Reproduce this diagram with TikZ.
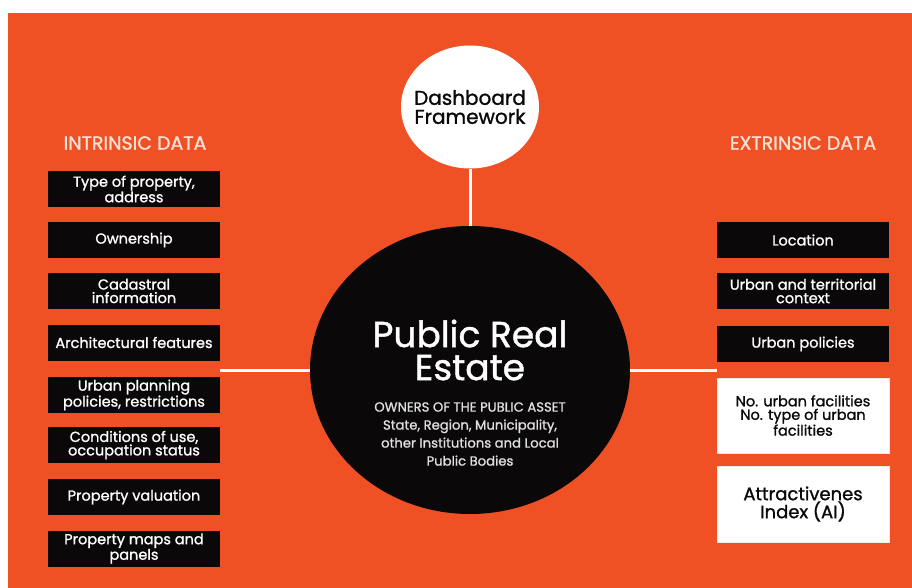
\documentclass[tikz,border=0pt]{standalone}
\usepackage{fontspec}
\setmainfont{Poppins}[FakeBold=1.2]
\usetikzlibrary{shapes.geometric}
\definecolor{bgorange}{RGB}{239,81,36}
\definecolor{boxblack}{RGB}{10,8,8}
\definecolor{headpeach}{RGB}{250,226,214}
\begin{document}
\begin{tikzpicture}
[
 x=1pt, y=-1pt,
 inner sep=0.5mm,
 INBOX/.style={rectangle, fill=boxblack, text=white, minimum width=172pt, minimum height=36pt, align=center, font=\fontsize{14.5}{13.5}\selectfont},
 WHITEBOX/.style={rectangle, fill=white, draw=black!8, text=boxblack, minimum width=172pt, align=center},
 HEAD/.style={text=headpeach, font=\fontsize{19}{19}\selectfont},
 HUB/.style={ellipse, fill=boxblack, minimum width=320pt, minimum height=288pt},
 DASH/.style={ellipse, fill=white, minimum width=138pt, minimum height=123pt},
 LINK/.style={white, line width=3pt},
 ]
%
\fill[white] (0,0) rectangle (912,588);
\fill[bgorange] (8,13) rectangle (912,588);
\useasboundingbox (0,0) rectangle (912,588);
%
\node [HUB]   (hub)  at (470,370) {};
\node [DASH]  (dash) at (470,107) {};
\node [text=boxblack, align=center, font=\fontsize{20}{19}\selectfont] (dashtxt) at (dash.center) {Dashboard\\Framework};
%
\node [text=white, align=center, font=\fontsize{36}{33}\selectfont] (title) at (470,350) {Public Real\\Estate};
\node [text=black!12, align=center, font=\fontsize{13.2}{18}\selectfont] (owners) at (470,434)
  {OWNERS OF THE PUBLIC ASSET\\State, Region, Municipality,\\other Institutions and Local\\Public Bodies};
%
\node [HEAD]  (intr) at (135,143) {INTRINSIC DATA};
\node [HEAD]  (extr) at (803,143) {EXTRINSIC DATA};
%
\node [INBOX] (I1) at (134,189)   {Type of property,\\address};
\node [INBOX] (I2) at (134,240)   {Ownership};
\node [INBOX] (I3) at (134,291)   {Cadastral\\information};
\node [INBOX] (I4) at (134,342.5) {Architectural features};
\node [INBOX] (I5) at (134,395)   {Urban planning\\policies, restrictions};
\node [INBOX] (I6) at (134,445)   {Conditions of use,\\occupation status};
\node [INBOX] (I7) at (134,497)   {Property valuation};
\node [INBOX] (I8) at (134,548.5) {Property maps and\\panels};
%
\node [INBOX] (E1) at (803,240) {Location};
\node [INBOX] (E2) at (803,291) {Urban and territorial\\context};
\node [INBOX] (E3) at (803,344) {Urban policies};
\node [WHITEBOX, minimum height=75pt, font=\fontsize{14.5}{13.5}\selectfont] (E4) at (803,415.5)
  {No. urban facilities\\No. type of urban\\facilities};
\node [WHITEBOX, minimum height=76pt, font=\fontsize{18}{18}\selectfont] (E5) at (803,504)
  {Attractivenes\\Index (AI)};
%
\coordinate (lend) at (220,370);
\coordinate (rend) at (717,370);
\draw [LINK]  (dash.south) -- (hub.north);
\draw [LINK]  (hub.west)   -- (lend);
\draw [LINK]  (hub.east)   -- (rend);
%
\end{tikzpicture}
\end{document}
